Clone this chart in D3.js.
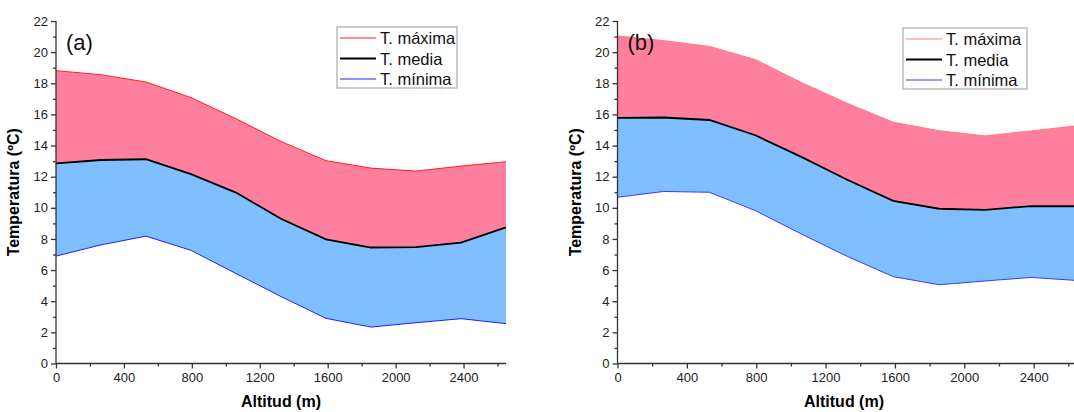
<!DOCTYPE html>
<html><head><meta charset="utf-8">
<script src="https://cdn.jsdelivr.net/npm/d3@7"></script>
<style>body{margin:0;background:#fff}svg{display:block;font-family:"Liberation Sans",Arial,sans-serif}</style>
</head><body><svg id="c" width="1074" height="412"></svg>
<script>
const altitudes = [0,265,530,795,1060,1325,1590,1855,2120,2385,2650];
const maxA = [18.81,18.55,18.08,17.08,15.72,14.26,13.03,12.55,12.36,12.68,12.96];
const meanA = [12.85,13.07,13.12,12.16,10.98,9.30,7.98,7.45,7.48,7.77,8.74];
const minA = [6.90,7.62,8.18,7.27,5.78,4.30,2.90,2.34,2.62,2.88,2.56];
const maxB = [21.04,20.74,20.37,19.52,18.05,16.71,15.50,14.95,14.62,14.94,15.27];
const meanB = [15.78,15.80,15.64,14.66,13.27,11.80,10.45,9.94,9.87,10.11,10.10];
const minB = [10.68,11.05,11.00,9.82,8.32,6.88,5.58,5.06,5.30,5.53,5.33];
const yTicks = [0,2,4,6,8,10,12,14,16,18,20,22];
const xTicks = [0,400,800,1200,1600,2000,2400];
const legendLabels = ["T. máxima","T. media","T. mínima"];

const svg = d3.select("#c");
const AX = "#333";

function panel(cfg){
  const x = d3.scaleLinear().domain([0,2650]).range([cfg.x0,cfg.x1]);
  const y = d3.scaleLinear().domain([0,22]).range([363.5,21]);
  const g = svg.append("g");
  const d = altitudes.map((a,i)=>({a,mx:cfg.max[i],me:cfg.mean[i],mn:cfg.min[i]}));
  g.append("path").datum(d).attr("fill","#FF7F9F")
    .attr("d",d3.area().x(p=>x(p.a)).y0(p=>y(p.me)).y1(p=>y(p.mx)));
  g.append("path").datum(d).attr("fill","#7FBFFF")
    .attr("d",d3.area().x(p=>x(p.a)).y0(p=>y(p.mn)).y1(p=>y(p.me)));
  g.append("path").datum(d).attr("fill","none").attr("stroke",cfg.maxCol).attr("stroke-width",1)
    .attr("d",d3.line().x(p=>x(p.a)).y(p=>y(p.mx)));
  g.append("path").datum(d).attr("fill","none").attr("stroke",cfg.minCol).attr("stroke-width",1)
    .attr("d",d3.line().x(p=>x(p.a)).y(p=>y(p.mn)));
  g.append("path").datum(d).attr("fill","none").attr("stroke","#000").attr("stroke-width",1.8)
    .attr("d",d3.line().x(p=>x(p.a)).y(p=>y(p.me)));

  const ya = g.append("g").attr("transform",`translate(${cfg.x0},0)`)
    .call(d3.axisLeft(y).tickValues(yTicks).tickSize(5).tickPadding(3).tickFormat(d3.format("d")));
  const ym = g.append("g").attr("transform",`translate(${cfg.x0},0)`)
    .call(d3.axisLeft(y).tickValues(d3.range(1,22,2)).tickSize(3).tickFormat(""));
  ym.select(".domain").remove();
  const xa = g.append("g").attr("transform","translate(0,363.5)")
    .call(d3.axisBottom(x).tickValues(xTicks).tickSize(5).tickPadding(4).tickFormat(d3.format("d")));
  const xm = g.append("g").attr("transform","translate(0,363.5)")
    .call(d3.axisBottom(x).tickValues(d3.range(200,2650,400)).tickSize(3).tickFormat(""));
  xm.select(".domain").remove();
  [ya,ym,xa,xm].forEach(a=>{
    a.selectAll("path,line").attr("stroke",AX).attr("stroke-width",1.3);
    a.selectAll("text").attr("fill","#222").style("font-size","13px").style("font-family","Liberation Sans, Arial");
  });
  ya.select(".domain").attr("d",`M0,363.5V21`);
  xa.select(".domain").attr("d",`M${cfg.x0},0H${cfg.x1}`);

  g.append("text").attr("x",cfg.x0+10).attr("y",50).text(cfg.label)
    .style("font-size","22px").attr("fill","#111");
  g.append("text").attr("transform",`translate(${cfg.x0-37},${(363.5+21)/2}) rotate(-90)`)
    .attr("text-anchor","middle").style("font-size","16px").style("font-weight","bold").text("Temperatura (ºC)");
  g.append("text").attr("x",cfg.xt).attr("y",407).attr("text-anchor","middle")
    .style("font-size","16px").style("font-weight","bold").text("Altitud (m)");

  const lg = g.append("g").attr("transform",`translate(${cfg.lx},${cfg.ly})`);
  lg.append("rect").attr("x",0).attr("y",0).attr("width",cfg.lw).attr("height",61)
    .attr("fill","#fff").attr("stroke","#aaa").attr("stroke-width",1.2);
  const cols=[cfg.maxCol,"#000",cfg.minCol], ws=[1,2,1];
  legendLabels.forEach((t,i)=>{
    const yy = 11+i*20.5;
    lg.append("line").attr("x1",3).attr("x2",39).attr("y1",yy).attr("y2",yy).attr("stroke",cols[i]).attr("stroke-width",ws[i]);
    lg.append("text").attr("x",43).attr("y",yy+6).text(t).style("font-size","16.5px").attr("fill","#111");
  });
}

panel({name:"a",x0:56,x1:506,max:maxA,mean:meanA,min:minA,maxCol:"#FF2020",minCol:"#2020FF",label:"(a)",xt:281,lx:337,ly:27,lw:120});
panel({name:"b",x0:617.5,x1:1077,max:maxB,mean:meanB,min:minB,maxCol:"#FF7A7A",minCol:"#3A3AFF",label:"(b)",xt:844,lx:903,ly:28,lw:124});
</script></body></html>
